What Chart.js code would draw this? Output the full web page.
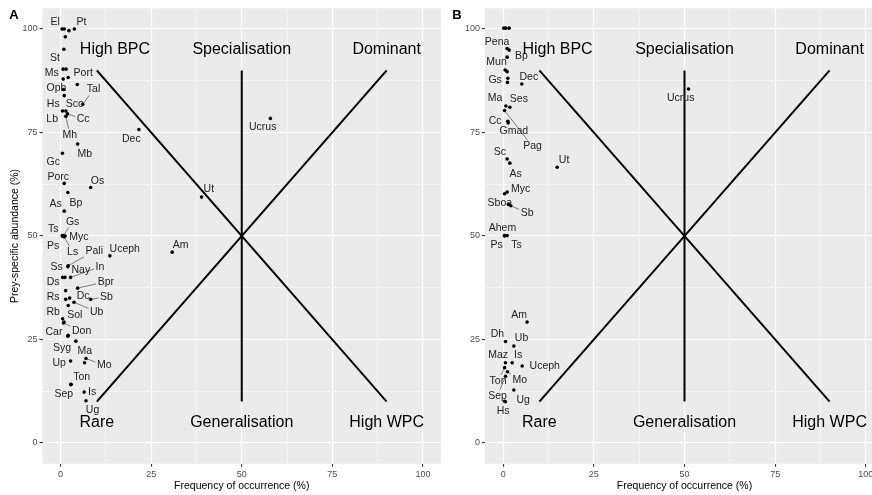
<!DOCTYPE html>
<html>
<head>
<meta charset="utf-8">
<script src="https://cdn.jsdelivr.net/npm/chart.js@4.4.1/dist/chart.umd.min.js"></script>
<style>
    html, body { margin: 0; padding: 0; background: #fff; }
    #wrap { position: relative; width: 872px; height: 495px; overflow: hidden; }
    canvas { position: absolute; top: 0; }
</style>
</head>
<body>
<div id="wrap">
    <canvas id="chartA" width="445" height="495" style="left:0"></canvas>
    <canvas id="chartB" width="445" height="495" style="left:445px"></canvas>
</div>
<script>
// Panel A: prey names, frequency of occurrence (%), prey-specific abundance (%)
const namesA = ['El', '', '', 'Pt', '', 'St', 'Ms', '', 'Port', '', 'Oph', '', 'Sco', 'Tal', 'Hs', 'Lb', 'Cc', 'Mh',
    'Dec', 'Mb', 'Gc', 'Porc', 'Os', 'Bp', 'As', 'Ts', 'Gs', 'Myc', 'Ps', 'Ls', 'Pali', 'Ss', 'Uceph', 'Am', 'Ut',
    'Ucrus', 'Ds', 'Nay', 'In', 'Bpr', '', 'Rs', 'Dc', 'Sb', 'Ub', '', 'Rb', 'Sol', 'Don', 'Car', 'Syg', 'Ma', '',
    'Up', 'Mo', 'Ton', 'Sep', 'Is', 'Ug'];
const freqA = [0.4, 1.0, 2.3, 3.8, 1.3, 0.9, 0.7, 1.5, 2.1, 0.7, 0.8, 1.0, 4.6, 6.1, 0.5, 1.45, 1.9, 1.45,
    21.6, 4.7, 0.5, 1.0, 8.3, 2.0, 1.0, 0.45, 0.8, 1.25, 0.6, 1.0, 2.1, 2.0, 13.6, 30.8, 38.9,
    57.9, 0.55, 1.2, 2.75, 4.7, 1.4, 1.4, 2.5, 8.3, 3.7, 2.1, 0.55, 0.95, 0.8, 2.1, 2.0, 4.2, 6.6,
    2.75, 7.0, 2.9, 2.8, 6.5, 7.0];
const abundA = [100, 100, 99.6, 100, 98.1, 95.1, 90.3, 90.3, 88.3, 87.9, 85.4, 83.9, 86.6, 81.8, 80.2, 80.2, 79.5, 78.9,
    75.7, 72.2, 70, 62.7, 61.7, 60.5, 56, 50.1, 50.1, 50.0, 49.9, 49.8, 42.8, 42.6, 45.2, 46.1, 59.4,
    78.4, 40, 40, 40, 37.4, 36.8, 34.7, 35, 34.7, 34, 33.2, 30, 29.2, 29.0, 26, 25.8, 24.6, 19.4,
    19.8, 20.4, 14.2, 14.1, 12.3, 10.2];

// Panel B
const namesB = ['', '', '', 'Pena', '', 'Bp', 'Mun', '', 'Gs', '', 'Dec', 'Ma', 'Ses', 'Pag', 'Cc', 'Gmad', 'Sc', 'As',
    'Ut', 'Myc', '', 'Sboa', 'Sb', 'Ahem', 'Ps', 'Ts', 'Ucrus', 'Am', 'Dh', 'Ub', 'Maz', 'Is', 'Uceph', 'Ton', 'Mo',
    'Sep', 'Ug', 'Hs', ''];
const freqB = [0.2, 0.75, 1.65, 1.1, 1.65, 1.1, 0.55, 1.1, 1.3, 1.2, 5.15, 0.75, 1.85, 0.4, 1.3, 1.4, 1.1, 1.85,
    14.9, 1.1, 0.4, 1.5, 2.1, 0.4, 0.35, 1.1, 51.1, 6.6, 0.65, 2.95, 0.65, 2.5, 5.25, 0.4, 1.2,
    0.65, 2.95, 0.4, 0.65];
const abundB = [100.2, 100.2, 100.2, 95.3, 94.9, 93.2, 90.1, 89.7, 88.1, 87.1, 86.7, 81.4, 81.1, 80.3, 77.7, 77.3, 68.6, 67.6,
    66.6, 60.6, 60.2, 57.6, 57.3, 50.1, 50.0, 50.1, 85.5, 29.2, 24.5, 23.4, 19.4, 19.4, 18.6, 18.2, 17.2,
    16.1, 12.8, 10.1, 9.95];

// Costello diagram guides and quadrant names
const guideLines = [[10, 90, 90, 10], [10, 10, 90, 90], [50, 10, 50, 90]];
const quadText = ['High BPC', 'Specialisation', 'Dominant', 'Rare', 'Generalisation', 'High WPC'];
const quadX = [15, 50, 90, 10, 50, 90];
const quadY = [95, 95, 95, 5, 5, 5];
const gridVals = [0, 12.5, 25, 37.5, 50, 62.5, 75, 87.5, 100];

// label placement (pixel offset of each text label from its point, like ggrepel put them)
const labelDxA = [-7, 0, 0, 7, 0, -9, -11.5, 0, 15, 0, -7, 0, -2.4, 10.8, -9.2, -13.7, 15.7, 4,
    -7.5, 7.2, -9.2, -6, 6.8, 8, -8.6, -9, 9.1, 13.8, -9.6, 8.4, 26, -11.3, 14.9, 8.4, 7.3,
    -7.7, -9.4, 15.9, 29.3, 28.2, 0, -12.5, 13.5, 15.8, 22.6, 0, -9.4, 10.8, 18.1, -14.3, -5.7, 9, 0,
    -11.4, 18.2, 10.5, -6.9, 8, 6.6];
const labelDyA = [-7, 0, 0, -7, 0, 9, 3.5, 0, -4, 0, -1, 0, 19.8, -15, -7, 8.3, 5.4, 18.3,
    9.7, 9.9, 9.1, -6.7, -6.9, 10.8, -6.9, -6.6, -13.9, 0.7, 9.6, 15.2, -14.8, 0.7, -6.6, -6.8, -7.8,
    8.9, 4.9, -7.4, -10.7, -6.5, 0, -2.6, -2.1, -2.6, 9.5, 0, -7.1, -7.1, 8.4, -3.1, 11.5, 9.5, 0,
    1.7, 6.8, -7.5, 9.4, 0, 9.2];
const leadersA = ['Tal', 'Cc', 'Mh', 'Gs', 'Ls', 'Pali', 'In', 'Bpr', 'Sb', 'Ub', 'Don', 'Mo'];

const labelDxB = [0, 0, 0, -10, 0, 14.4, -8.6, 0, -12.7, 0, 7, -10.7, 9, 27.9, -12.7, 5.6, -7.3, 5.7,
    6.9, 13.4, 0, -8.7, 16.4, -2.1, -7.9, 9.4, -7.8, -8, -8, 7.7, -7.4, 5.9, 22.6, -6.5, 12.3,
    -8, 9.3, -1.5, 0];
const labelDyB = [0, 0, 0, -6.8, 0, -1.5, -7.4, 0, 2.3, 0, -6.9, -7.9, -8.4, 36, 0.2, 7.8, -7, 10.5,
    -7.6, -3.2, 0, -1, 7.1, -7.8, 9.5, 9.9, 9.5, -7.5, -7.3, -7.9, -7.5, -7.5, 0.2, 13.2, 8.4,
    19.5, 9.8, 10.2, 0];
const leadersB = ['Pag', 'Sb', 'Ton', 'Mo', 'Sep'];

const FONT = "'Liberation Sans', Arial, sans-serif";

function drawLeader(ctx, px, py, lx, ly, w) {
    const hw = w / 2 + 1.5;
    const hh = 6;
    const ddx = px - lx;
    const ddy = py - ly;
    const t = Math.min(ddx ? hw / Math.abs(ddx) : Infinity, ddy ? hh / Math.abs(ddy) : Infinity);
    if (t >= 1) {
        return;
    }
    const sx = lx + ddx * t;
    const sy = ly + ddy * t;
    const len = Math.hypot(px - sx, py - sy);
    if (len < 3) {
        return;
    }
    const ex = px - (px - sx) / len * 1.5;
    const ey = py - (py - sy) / len * 1.5;
    ctx.beginPath();
    ctx.moveTo(sx, sy);
    ctx.lineTo(ex, ey);
    ctx.stroke();
}

function makePanel(canvasId, p) {
    const points = p.x.map((v, i) => ({ x: v, y: p.y[i] }));
    const datasets = guideLines.map((g) => ({
        type: 'scatter',
        data: [{ x: g[0], y: g[1] }, { x: g[2], y: g[3] }],
        showLine: true,
        borderColor: '#000',
        borderWidth: 2,
        pointRadius: 0
    }));
    datasets.push({
        type: 'scatter',
        data: points,
        pointRadius: 1.8,
        pointBackgroundColor: '#000',
        pointBorderWidth: 0
    });

    const isMajor = (ctx) => ctx.tick && ctx.tick.value % 25 === 0;
    const axis = (extra) => Object.assign({
        type: 'linear',
        min: -5,
        max: 105,
        afterBuildTicks: (scale) => {
            scale.ticks = gridVals.map((v) => ({ value: v }));
        },
        border: { display: false },
        grid: {
            color: '#fff',
            lineWidth: (ctx) => (isMajor(ctx) ? 1.1 : 0.55),
            tickColor: (ctx) => (isMajor(ctx) ? '#333' : 'rgba(0,0,0,0)'),
            tickLength: 3
        },
        ticks: {
            autoSkip: false,
            maxRotation: 0,
            padding: 2,
            color: '#4d4d4d',
            font: { family: FONT, size: 9 },
            callback: (v) => (v % 25 === 0 ? String(v) : '')
        }
    }, extra);

    const panelPlugin = {
        id: 'costello' + canvasId,
        beforeDraw(chart) {
            const a = chart.chartArea;
            const ctx = chart.ctx;
            ctx.save();
            ctx.fillStyle = '#ebebeb';
            ctx.fillRect(a.left, a.top, a.right - a.left, a.bottom - a.top);
            ctx.restore();
        },
        afterDatasetsDraw(chart) {
            const ctx = chart.ctx;
            const xs = chart.scales.x;
            const ys = chart.scales.y;
            ctx.save();
            ctx.font = '10.5px ' + FONT;
            ctx.textAlign = 'center';
            ctx.textBaseline = 'middle';
            ctx.strokeStyle = '#333';
            ctx.lineWidth = 0.6;
            p.names.forEach((name, i) => {
                if (!name) {
                    return;
                }
                const px = xs.getPixelForValue(p.x[i]);
                const py = ys.getPixelForValue(p.y[i]);
                const lx = px + p.dx[i];
                const ly = py + p.dy[i];
                if (p.leaders.indexOf(name) !== -1) {
                    drawLeader(ctx, px, py, lx, ly, ctx.measureText(name).width);
                }
                ctx.fillStyle = '#222';
                ctx.fillText(name, lx, ly);
            });

            ctx.fillStyle = '#000';
            ctx.font = '16px ' + FONT;
            quadText.forEach((t, i) => {
                ctx.fillText(t, xs.getPixelForValue(quadX[i]), ys.getPixelForValue(quadY[i]));
            });
            ctx.restore();
        },
        afterDraw(chart) {
            const ctx = chart.ctx;
            const a = chart.chartArea;
            ctx.save();
            ctx.fillStyle = '#000';
            ctx.textAlign = 'center';
            ctx.textBaseline = 'middle';
            ctx.font = '10.5px ' + FONT;
            ctx.fillText('Frequency of occurrence (%)', (a.left + a.right) / 2, 486);
            if (p.yTitle) {
                ctx.save();
                ctx.translate(15, (a.top + a.bottom) / 2);
                ctx.rotate(-Math.PI / 2);
                ctx.fillText(p.yTitle, 0, 0);
                ctx.restore();
            }
            ctx.font = 'bold 13px ' + FONT;
            ctx.fillText(p.tag, p.tagX, 15);
            ctx.restore();
        }
    };

    return new Chart(document.getElementById(canvasId), {
        data: { datasets: datasets },
        options: {
            responsive: false,
            animation: false,
            events: [],
            layout: { padding: { top: 8.3, right: p.padRight, bottom: 0, left: 0 } },
            plugins: { legend: { display: false }, tooltip: { enabled: false } },
            scales: {
                x: axis({ position: 'bottom', afterFit: (s) => { s.height = 31.3; } }),
                y: axis({ position: 'left', afterFit: (s) => { s.width = p.axisWidth; } })
            }
        },
        plugins: [panelPlugin]
    });
}

makePanel('chartA', {
    names: namesA, x: freqA, y: abundA, dx: labelDxA, dy: labelDyA, leaders: leadersA,
    tag: 'A', tagX: 14, yTitle: 'Prey-specific abundance (%)', axisWidth: 42.5, padRight: 2.8
});
makePanel('chartB', {
    names: namesB, x: freqB, y: abundB, dx: labelDxB, dy: labelDyB, leaders: leadersB,
    tag: 'B', tagX: 12, yTitle: '', axisWidth: 40, padRight: 6
});
</script>
</body>
</html>
